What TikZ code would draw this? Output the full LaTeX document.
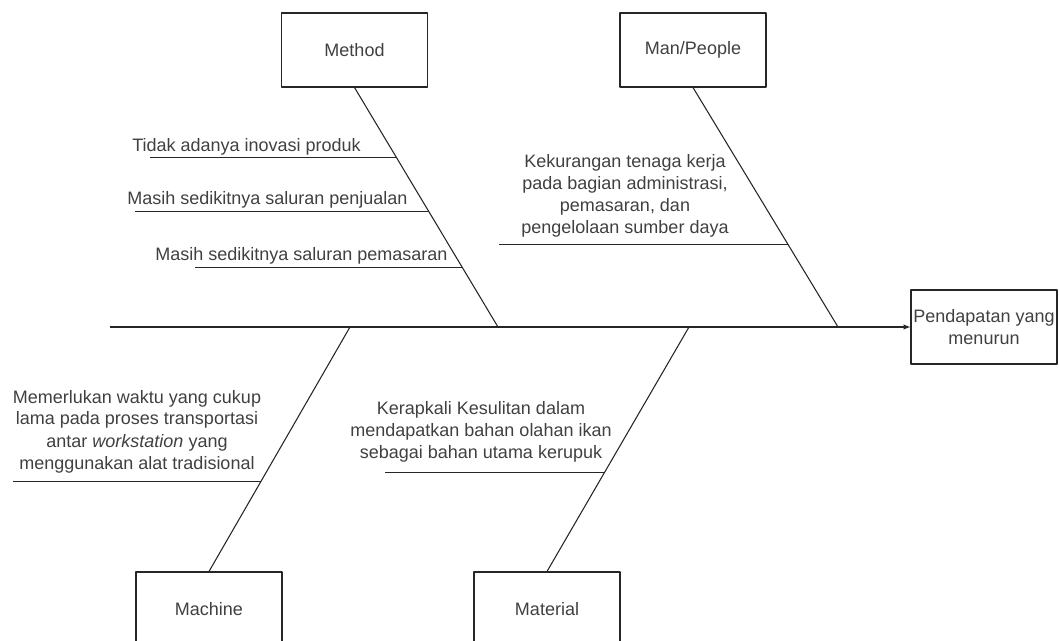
\documentclass[tikz,border=0pt]{standalone}
\usepackage{fontspec}
\setmainfont{Liberation Sans}
\usetikzlibrary{positioning,calc}

\tikzset{
  catbox/.style={draw=black!85,line width=0.8pt,minimum width=109.5pt,minimum height=55.5pt,inner sep=0pt,text=black!75},
  bone/.style={draw=black!85,line width=0.8pt},
  twig/.style={draw=black!85,line width=0.8pt},
  cause/.style={inner sep=0pt,text=black!75},
}

\begin{document}
\begin{tikzpicture}[x=0.75pt,y=-0.75pt,>=latex,line join=bevel,font=\fontsize{13.5}{16.5}\selectfont]
%%
\useasboundingbox (0,0) rectangle (1059,641);
% categories and effect
\node (method) at (354.5,50) [catbox] {Method};
  \node (people) at (693,50) [catbox] {Man/People};
  \node (machine) at (209,609) [catbox] {Machine};
  \node (material) at (547,609) [catbox] {Material};
  \node (effect) at (984,327) [catbox,align=center] {Pendapatan yang\\menurun};
% spine
\coordinate (tail) at (110,327);
  \coordinate (j_method) at (498,327);
  \coordinate (j_people) at (838,327);
  \coordinate (j_machine) at (350,327);
  \coordinate (j_material) at (689,327);
  \draw [bone,->] (tail) -- (effect.west);
  \draw [bone] (method.south) -- (j_method);
  \draw [bone] (people.south) -- (j_people);
  \draw [bone] (machine.north) -- (j_machine);
  \draw [bone] (material.north) -- (j_material);
% causes
\coordinate (b_1) at ($(method.south)!0.2917!(j_method)$);
  \coordinate (b_2) at ($(method.south)!0.5167!(j_method)$);
  \coordinate (b_3) at ($(method.south)!0.75!(j_method)$);
  \coordinate (b_4) at ($(people.south)!0.654!(j_people)$);
  \coordinate (b_5) at ($(machine.north)!0.367!(j_machine)$);
  \coordinate (b_6) at ($(material.north)!0.404!(j_material)$);
  \coordinate (e_1) at (150,0);
  \coordinate (e_2) at (135,0);
  \coordinate (e_3) at (195,0);
  \coordinate (e_4) at (499,0);
  \coordinate (e_5) at (13,0);
  \coordinate (e_6) at (385,0);
  \draw [twig] (e_1 |- b_1) -- (b_1);
  \draw [twig] (e_2 |- b_2) -- (b_2);
  \draw [twig] (e_3 |- b_3) -- (b_3);
  \draw [twig] (e_4 |- b_4) -- (b_4);
  \draw [twig] (e_5 |- b_5) -- (b_5);
  \draw [twig] (e_6 |- b_6) -- (b_6);
%
\node (t_1) at (132,152) [cause,anchor=base west] {Tidak adanya inovasi produk};
  \node (t_2) at (127,205) [cause,anchor=base west] {Masih sedikitnya saluran penjualan};
  \node (t_3) at (155,261) [cause,anchor=base west] {Masih sedikitnya saluran pemasaran};
  \node (t_4) at (625,238) [cause,anchor=south,align=center] {Kekurangan tenaga kerja\\pada bagian administrasi,\\pemasaran, dan\\pengelolaan sumber daya};
  \node (t_5) at (137,473) [cause,anchor=south,align=center] {Memerlukan waktu yang cukup\\lama pada proses transportasi\\antar \textit{workstation} yang\\menggunakan alat tradisional};
  \node (t_6) at (481,462) [cause,anchor=south,align=center] {Kerapkali Kesulitan dalam\\mendapatkan bahan olahan ikan\\sebagai bahan utama kerupuk};
%
\end{tikzpicture}
\end{document}
